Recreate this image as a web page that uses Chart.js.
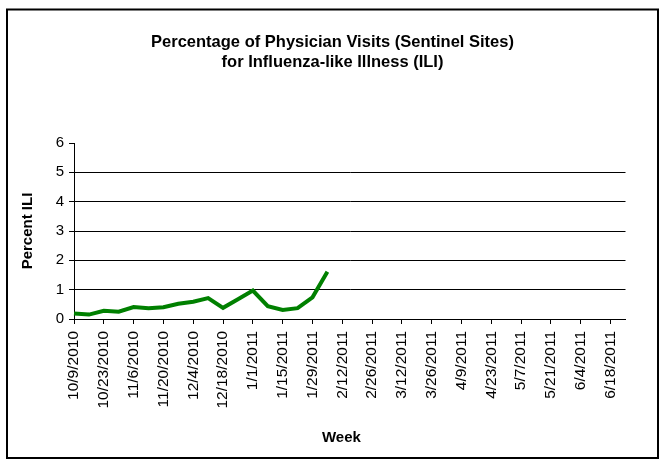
<!DOCTYPE html>
<html>
<head>
<meta charset="utf-8">
<title>ILI</title>
<script src="https://cdn.jsdelivr.net/npm/chart.js@4.4.0/dist/chart.umd.min.js"></script>
<style>
    body { margin: 0; background: #fff; }
    canvas { display: block; }
</style>
</head>
<body>
<canvas id="iliChart" width="665" height="467"></canvas>
<script>
// weeks ending (Saturday), 2010-2011 season
const weeks = [
    '10/9/2010', '10/16/2010', '10/23/2010', '10/30/2010', '11/6/2010', '11/13/2010',
    '11/20/2010', '11/27/2010', '12/4/2010', '12/11/2010', '12/18/2010', '12/25/2010',
    '1/1/2011', '1/8/2011', '1/15/2011', '1/22/2011', '1/29/2011', '2/5/2011',
    '2/12/2011', '2/19/2011', '2/26/2011', '3/5/2011', '3/12/2011', '3/19/2011',
    '3/26/2011', '4/2/2011', '4/9/2011', '4/16/2011', '4/23/2011', '4/30/2011',
    '5/7/2011', '5/14/2011', '5/21/2011', '5/28/2011', '6/4/2011', '6/11/2011',
    '6/18/2011', '6/25/2011'
];
const percentILI = [0.19, 0.15, 0.28, 0.25, 0.41, 0.37, 0.40, 0.52, 0.59, 0.71,
    0.38, 0.67, 0.97, 0.44, 0.31, 0.37, 0.74, 1.61];
const yMin = 0;
const yMax = 6;
const yStep = 1;
const titleLines = ['Percentage of Physician Visits (Sentinel Sites)', 'for Influenza-like Illness (ILI)'];

const fontFamily = 'Liberation Sans, Arial, sans-serif';

// outer frame round the whole chart
const framePlugin = {
    id: 'frame',
    afterDraw: function (chart) {
        const ctx = chart.ctx;
        ctx.save();
        ctx.strokeStyle = '#000';
        ctx.lineWidth = 2;
        ctx.strokeRect(7, 9.5, 651, 448.5);
        ctx.restore();
    }
};

function drawChart() {
    const ctx = document.getElementById('iliChart').getContext('2d');
    new Chart(ctx, {
        type: 'line',
        data: {
            labels: weeks,
            datasets: [{
                label: 'Percent ILI',
                data: percentILI,
                borderColor: '#008000',
                borderWidth: 4,
                pointRadius: 0,
                tension: 0,
                fill: false
            }]
        },
        options: {
            responsive: false,
            animation: false,
            layout: { padding: 0 },
            plugins: {
                legend: { display: false },
                tooltip: { enabled: false },
                title: {
                    display: true,
                    text: titleLines,
                    color: '#000',
                    font: { family: fontFamily, size: 16.5, weight: 'bold', lineHeight: 1.2 },
                    padding: { top: 32.5, bottom: 70.9 }
                }
            },
            scales: {
                x: {
                    offset: false,
                    afterFit: function (scale) { scale.height = 148; },
                    grid: {
                        drawOnChartArea: false,
                        tickLength: 5,
                        tickColor: function (c) { return c.index % 2 === 0 ? '#000' : 'rgba(0,0,0,0)'; }
                    },
                    border: { display: true, color: '#000', width: 1 },
                    ticks: {
                        autoSkip: false,
                        minRotation: 90,
                        maxRotation: 90,
                        padding: 7,
                        color: '#000',
                        font: { family: fontFamily, size: 15.5 },
                        callback: function (value, index) {
                            return index % 2 === 0 ? weeks[index] : '';
                        }
                    },
                    title: {
                        display: true,
                        // trailing spaces nudge the title a little left, as in the original
                        text: 'Week\u00a0\u00a0\u00a0\u00a0',
                        color: '#000',
                        font: { family: fontFamily, size: 15, weight: 'bold', lineHeight: 1.2 },
                        padding: { top: 0, bottom: 20.5 }
                    }
                },
                y: {
                    min: yMin,
                    max: yMax,
                    afterFit: function (scale) { scale.width = 74; },
                    grid: {
                        color: function (c) { return c.tick && c.tick.value === yMax ? 'rgba(0,0,0,0)' : '#000'; },
                        tickColor: '#000',
                        tickLength: 5,
                        lineWidth: 1
                    },
                    border: { display: true, color: '#000', width: 1 },
                    ticks: {
                        stepSize: yStep,
                        padding: 5,
                        color: '#000',
                        font: { family: fontFamily, size: 15 }
                    },
                    title: {
                        display: true,
                        text: 'Percent ILI',
                        color: '#000',
                        font: { family: fontFamily, size: 15, weight: 'bold', lineHeight: 1.2 },
                        padding: { top: 19, bottom: 0 }
                    }
                },
                // empty space on the right so the title stays centred on the page
                yRight: {
                    position: 'right',
                    display: true,
                    afterFit: function (scale) { scale.width = 39.5; },
                    grid: { display: false },
                    border: { display: false },
                    ticks: { display: false }
                }
            }
        },
        plugins: [framePlugin]
    });
}
drawChart();
</script>
</body>
</html>
